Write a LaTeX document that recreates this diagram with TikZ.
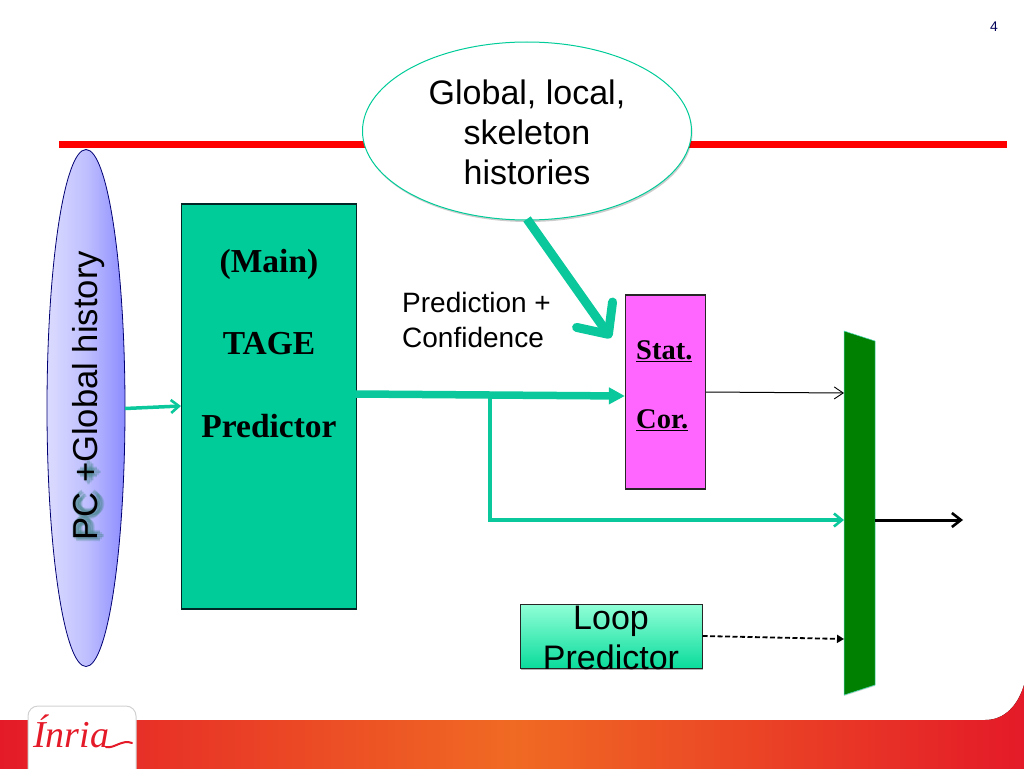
\documentclass[tikz,border=0pt]{standalone}
\usepackage{fontspec}
\setmainfont{Liberation Sans}
\newfontfamily\serifb{Liberation Serif}
\usetikzlibrary{shapes.geometric,arrows.meta,shadows,fadings,calc}
\definecolor{tealg}{RGB}{0,204,153}
\definecolor{arrowg}{RGB}{10,200,155}
\definecolor{inriared}{RGB}{228,26,40}
\definecolor{inriaor}{RGB}{240,106,35}
\definecolor{darkg}{RGB}{0,128,0}
\definecolor{magbox}{RGB}{255,102,255}
\definecolor{looptop}{RGB}{145,255,215}
\definecolor{loopbot}{RGB}{10,220,155}
\definecolor{glowc}{RGB}{60,130,130}
\tikzset{
  x=1pt,y=-1pt,
  fs/.style 2 args={font=\fontsize{#1}{#2}\selectfont},
  boxlabel/.style={font=\serifb\bfseries\fontsize{33.5}{37}\selectfont,align=center},
  statlabel/.style={font=\serifb\bfseries\fontsize{28.5}{32}\selectfont,anchor=west,inner sep=0pt},
  thickarrow/.style={draw=arrowg,line width=#1}
}
\begin{document}
\begin{tikzpicture}
\useasboundingbox (0,0) rectangle (1024,768);
% banner
\fill[left color=inriared,right color=inriaor] (0,720) rectangle (513,772);
\fill[left color=inriaor,right color=inriared] (512,720) -- (985,720)
  .. controls (1005,720) and (1018,705) .. (1024,685) -- (1024,772) -- (512,772) -- cycle;
% logo tab
\fill[white,draw=black!18,line width=1pt,rounded corners=10pt] (28,800) -- (28,706) -- (136,706) -- (136,800);
\node (logo) [inner sep=0pt,text=inriared,anchor=base west] at (33,747)
  {\serifb\itshape\fontsize{38}{38}\selectfont Ínria};
\coordinate (swashA) at (106,747);
\coordinate (swashB) at (132,743);
\draw[inriared,line width=2pt,line cap=round] (swashA) .. controls (114,749) and (122,739) .. (swashB);
% slide number
\node (num) [fs={14}{16},text=black!65!blue] at (994,27) {4};
% red rule
\fill[red] (59,141) rectangle (1007,148);
% callout ellipse
\node (hist) [ellipse,draw=tealg,fill=white,line width=1pt,minimum width=329pt,minimum height=178pt,inner sep=0pt,
  drop shadow={shadow xshift=1pt,shadow yshift=-2pt,opacity=.2,fill=black}] at (527,131) {};
\node (histt) [fs={34}{40},align=center] at (527,132) {Global, local,\\skeleton\\histories};
% left ellipse
\node (pc) [ellipse,draw=blue!45!black,line width=.8pt,minimum width=78pt,minimum height=517pt,inner sep=0pt,
  left color=blue!14,right color=blue!45,middle color=blue!25] at (86,408) {};
\foreach \dx/\dy [count=\i] in {-3/0,3/0,0/-3,0/3,-2/-2,2/-2,-2/2,2/2,-4/0,4/0,0/-4,0/4}
  \node (pcglow\i) [fs={34.6}{40},rotate=90,text=glowc,opacity=.22,anchor=west] at (89+\dx,544+\dy) {PC +};
\node (pct) [fs={34.6}{40},rotate=90,anchor=west] at (89,544) {PC +Global history};
% TAGE
\node (tage) [draw=black!70!teal,line width=1.2pt,fill=tealg,minimum width=175pt,minimum height=405pt,inner sep=0pt] at (269,406.5) {};
\node (tage1) [boxlabel] at (269,264) {(Main)};
\node (tage2) [boxlabel] at (269,344) {TAGE};
\node (tage3) [boxlabel] at (269,426) {Predictor};
% Stat Cor
\node (stat) [draw=black!85,line width=1.2pt,fill=magbox,minimum width=80pt,minimum height=194pt,inner sep=0pt] at (665.5,392) {};
\node (stat1) [statlabel] at (636,351) {\underline{Stat.}};
\node (stat2) [statlabel] at (636,420) {\underline{Cor.}};
% label
\node (lbl) [fs={28}{35},align=left,anchor=north west,inner sep=0pt] at (402,292) {Prediction +\\Confidence};
% mux
\path[fill=darkg,draw=tealg!70,line width=.5pt,
  drop shadow={shadow xshift=0pt,shadow yshift=-1pt,opacity=.15,fill=black}]
  (844,331) -- (875,341) -- (875,685) -- (844,695) -- cycle;
\coordinate (muxT) at (844,393);
\coordinate (muxM) at (844,520);
\coordinate (muxL) at (844,639);
\coordinate (muxO) at (875,520);
\coordinate (outE) at (963,520);
% loop predictor
\node (loop) [draw=black!85,line width=1pt,minimum width=182pt,minimum height=64pt,inner sep=0pt,
  top color=looptop,bottom color=loopbot,
  drop shadow={shadow xshift=1pt,shadow yshift=-2pt,opacity=.3,fill=black}] at (611,636) {};
\node (loopt) [fs={34}{40},align=center] at (611,638) {Loop\\Predictor};
% connectors
\coordinate (tageout) at (356,394);
\coordinate (branch) at (490,395);
\coordinate (pcout) at (125,408.5);
\coordinate (tagein) at (181,406);
\coordinate (histout) at (527,219);
\coordinate (statin) at (611,338);
\draw[thickarrow=3.5pt,-{Straight Barb[length=8pt,width=13pt,line width=2.6pt]}] (pcout) -- (tagein);
\draw[thickarrow=9pt,line cap=butt,-{Straight Barb[length=24pt,width=44pt,line width=9pt,round]}] (histout) -- (statin);
\draw[thickarrow=7.5pt,-{Triangle[length=16pt,width=16pt]}] (tageout) -- (branch) -- (stat.west |- 0,396);
\draw[thickarrow=4pt,line join=miter,-{Straight Barb[length=8pt,width=13pt,line width=2.6pt]}] (branch) -- (490,520) -- (muxM);
\draw[black,line width=1pt,-{Straight Barb[length=9pt,width=12pt,line width=.9pt]}] (stat.east |- 0,392) -- (muxT);
\draw[black,line width=3pt,-{Straight Barb[length=9pt,width=14pt,line width=2.6pt]}] (muxO) -- (outE);
\draw[black,line width=1.8pt,dashed,dash pattern=on 5pt off 2.5pt,-{Triangle[length=7pt,width=8pt]}] (loop.east |- 0,636) -- (muxL);
\end{tikzpicture}
\end{document}
